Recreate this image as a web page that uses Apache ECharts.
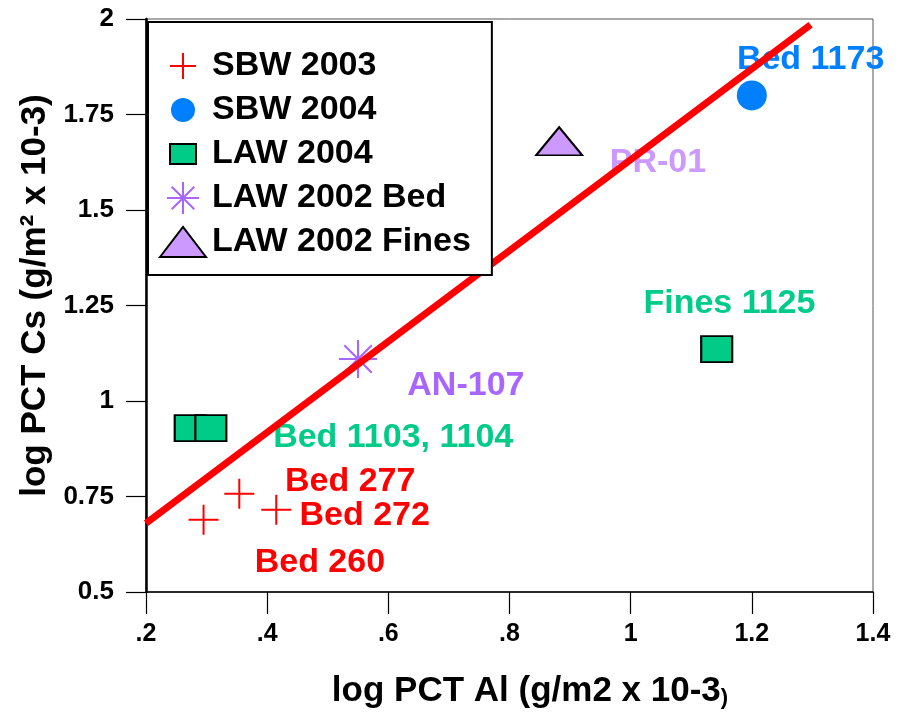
<!DOCTYPE html>
<html>
<head>
<meta charset="utf-8">
<script src="https://cdn.jsdelivr.net/npm/echarts@6/dist/echarts.min.js"></script>
<style>html,body{margin:0;padding:0;background:#fff}#c{width:904px;height:714px}</style>
</head>
<body>
<div id="c"></div>
<script>
// ---- data ----
const seriesNames = ['SBW 2003', 'SBW 2004', 'LAW 2004', 'LAW 2002 Bed', 'LAW 2002 Fines'];
const sbw2003 = [[0.295, 0.689], [0.354, 0.757], [0.415, 0.715]];
const sbw2004 = [[1.200, 1.800]];
const law2004 = [[0.273, 0.929], [0.307, 0.929], [1.142, 1.136]];
const law2002Bed = [[0.550, 1.110]];
const law2002Fines = [[0.882, 1.680]];
const fitLine = [[0.2, 0.68], [1.297, 1.985]];
const annotationText = ['Bed 1173', 'PR-01', 'Fines 1125', 'AN-107', 'Bed 1103, 1104', 'Bed 277', 'Bed 272', 'Bed 260'];
const annotationPos = [[1.297, 1.894], [1.045, 1.625], [1.163, 1.255], [0.728, 1.040], [0.608, 0.905], [0.537, 0.790], [0.561, 0.700], [0.487, 0.576]];
const xTicks = ['.2', '.4', '.6', '.8', '1', '1.2', '1.4'];
const yTicks = ['0.5', '0.75', '1', '1.25', '1.5', '1.75', '2'];

// ---- styles ----
const RED = '#FF0000', BLUE = '#0080FF', GREEN = '#00CC88', PURPLE = '#A866FF', LAVENDER = '#CC99FF';
const annotationColor = [BLUE, LAVENDER, GREEN, PURPLE, GREEN, RED, RED, RED];
const FONT = '"Liberation Sans", Arial, Helvetica, sans-serif';

const plusPath = 'path://M0 14 L30 14 L30 16 L0 16 Z M14 0 L16 0 L16 30 L14 30 Z';
const starPath = 'path://M0 17 L36 17 L36 19 L0 19 Z M17 0 L19 0 L19 36 L17 36 Z ' +
  'M5.7 4.3 L31.7 30.3 L30.3 31.7 L4.3 5.7 Z M31.7 5.7 L5.7 31.7 L4.3 30.3 L30.3 4.3 Z';

const legendIcons = [
  'path://M0 0 M48 32 M11 15 L37 15 L37 17 L11 17 Z M23 3 L25 3 L25 29 L23 29 Z',
  'path://M0 0 M48 32 M12 16 A12 12 0 1 1 36 16 A12 12 0 1 1 12 16 Z',
  'path://M0 0 M48 32 M11 6 L37 6 L37 26 L11 26 Z',
  'path://M0 0 M48 32 M8 15 L40 15 L40 17 L8 17 Z M23 0 L25 0 L25 32 L23 32 Z ' +
    'M13.4 4.0 L36.0 26.6 L34.6 28.0 L12.0 5.4 Z M36.0 5.4 L13.4 28.0 L12.0 26.6 L34.6 4.0 Z',
  'path://M0 0 M48 32 M1 31 L24 1 L47 31 Z'
];

const chart = echarts.init(document.getElementById('c'), null, {renderer: 'canvas'});

function fmtX(v) {
  const i = Math.round((v - 0.2) / 0.2);
  return xTicks[i] !== undefined ? xTicks[i] : '';
}
function fmtY(v) {
  const i = Math.round((v - 0.5) / 0.25);
  return yTicks[i] !== undefined ? yTicks[i] : '';
}

const option = {
  animation: false,
  backgroundColor: '#fff',
  textStyle: {fontFamily: FONT},
  grid: {
    left: 146, right: 31, top: 19, bottom: 117,
    show: true, borderColor: '#555', borderWidth: 1, backgroundColor: 'transparent'
  },
  legend: {
    orient: 'vertical', left: 148, top: 22,
    padding: [27, 21, 16, 10],
    itemWidth: 48, itemHeight: 32, itemGap: 10,
    borderColor: '#000', borderWidth: 2, backgroundColor: '#fff',
    symbolKeepAspect: true,
    textStyle: {fontSize: 34, fontWeight: 'bold', color: '#000', fontFamily: FONT, lineHeight: 32},
    data: seriesNames.map((n, i) => ({name: n, icon: legendIcons[i]}))
  },
  xAxis: {
    type: 'value', min: 0.2, max: 1.4, interval: 0.2,
    splitLine: {show: false},
    axisLine: {show: true, onZero: false, lineStyle: {color: '#000', width: 1.5}},
    axisTick: {show: true, inside: false, length: 22, lineStyle: {color: '#000', width: 1.2}},
    axisLabel: {formatter: fmtX, fontSize: 25, fontWeight: 'bold', color: '#000', margin: 30, fontFamily: FONT},
    name: 'log PCT Al (g/m2 x 10-3{s|)}',
    nameLocation: 'middle', nameGap: 82,
    nameTextStyle: {
      fontSize: 35, fontWeight: 'bold', color: '#000', fontFamily: FONT, padding: [0, 0, 0, 41],
      rich: {s: {fontSize: 22, fontWeight: 'bold', color: '#000', fontFamily: FONT, verticalAlign: 'bottom', padding: [10, 0, 0, 0]}}
    }
  },
  yAxis: {
    type: 'value', min: 0.5, max: 2, interval: 0.25,
    splitLine: {show: false},
    axisLine: {show: true, onZero: false, lineStyle: {color: '#000', width: 2.5}},
    axisTick: {show: true, inside: false, length: 20, lineStyle: {color: '#000', width: 1.2}},
    axisLabel: {formatter: fmtY, fontSize: 26, fontWeight: 'bold', color: '#000', margin: 32, fontFamily: FONT},
    name: 'log PCT Cs (g/m\u00B2 x 10-3)',
    nameLocation: 'middle', nameGap: 90,
    nameTextStyle: {fontSize: 35, fontWeight: 'bold', color: '#000', fontFamily: FONT, padding: [0, 0, 0, 20]}
  },
  series: [
    {
      name: 'annotations', type: 'scatter', symbolSize: 0, z: 1, silent: true,
      itemStyle: {opacity: 1},
      data: annotationText.map((t, i) => ({
        name: t, value: annotationPos[i],
        label: {color: annotationColor[i]}
      })),
      label: {
        show: true, position: 'inside', formatter: '{b}',
        fontSize: 34, fontWeight: 'bold', fontFamily: FONT
      }
    },
    {
      name: seriesNames[0], type: 'scatter', z: 2, data: sbw2003,
      symbol: plusPath, symbolSize: 30, itemStyle: {color: RED, opacity: 1}
    },
    {
      name: seriesNames[1], type: 'scatter', z: 2, data: sbw2004,
      symbol: 'circle', symbolSize: 30, itemStyle: {color: BLUE, opacity: 1}
    },
    {
      name: seriesNames[2], type: 'scatter', z: 2, data: law2004,
      symbol: 'rect', symbolSize: [31, 26],
      itemStyle: {color: GREEN, borderColor: '#000', borderWidth: 2, opacity: 1}
    },
    {
      name: seriesNames[3], type: 'scatter', z: 2, data: law2002Bed,
      symbol: starPath, symbolSize: 38, itemStyle: {color: PURPLE, opacity: 1}
    },
    {
      name: seriesNames[4], type: 'scatter', z: 2, data: law2002Fines,
      symbol: 'triangle', symbolSize: [46, 28],
      itemStyle: {color: LAVENDER, borderColor: '#000', borderWidth: 2, opacity: 1}
    },
    {
      name: 'fit', type: 'line', z: 3, data: fitLine, showSymbol: false, symbol: 'none',
      lineStyle: {color: RED, width: 7}, silent: true
    }
  ]
};
chart.setOption(option);
</script>
</body>
</html>
